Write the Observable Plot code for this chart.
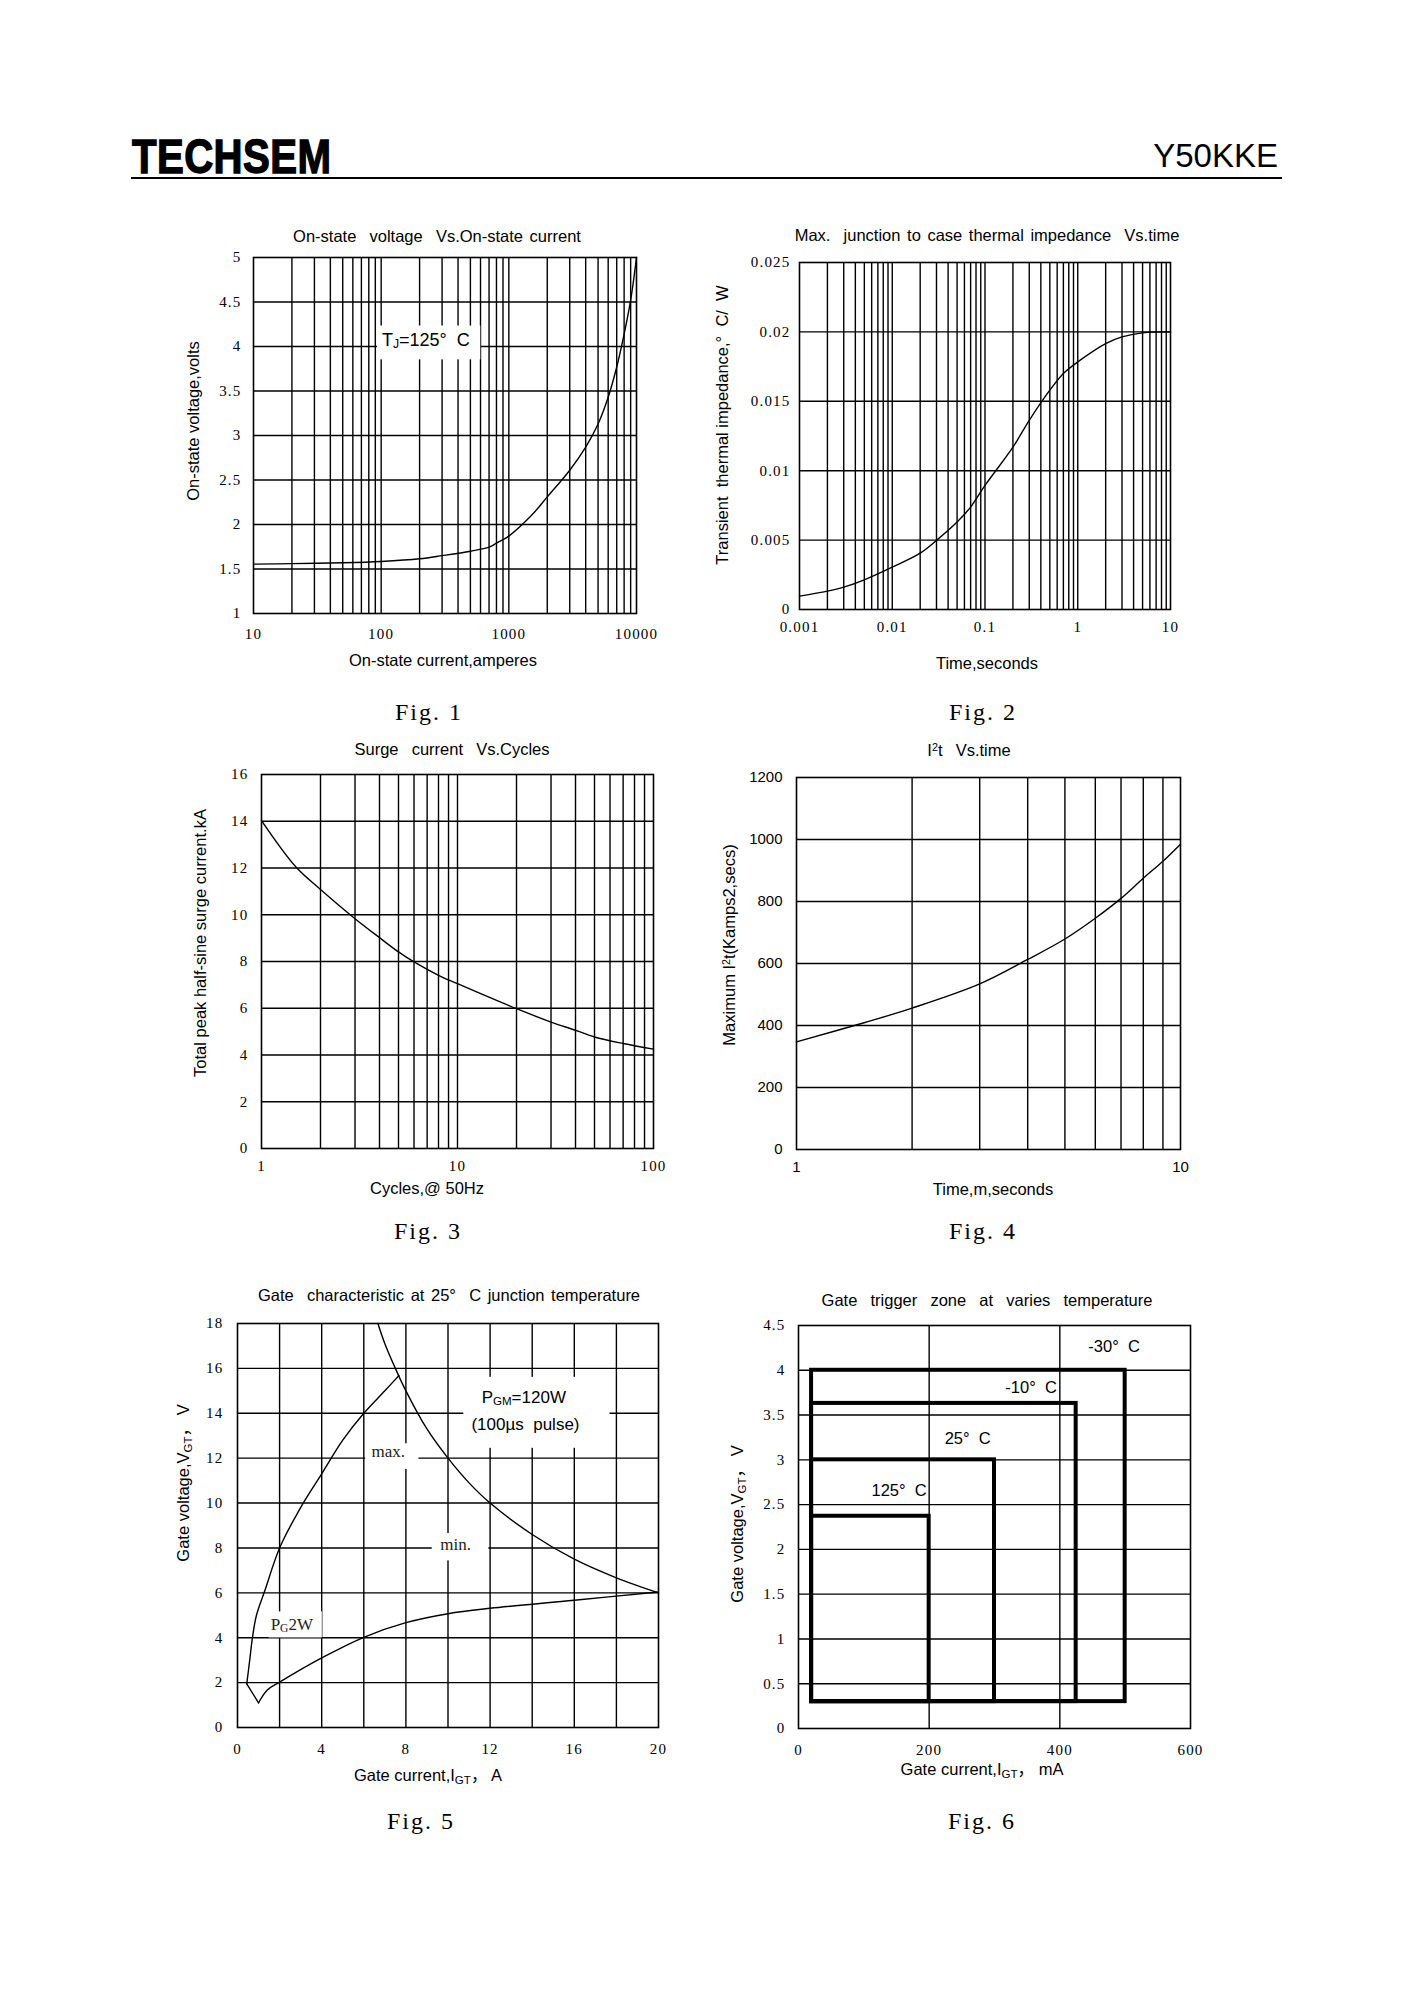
<!DOCTYPE html>
<html>
<head>
<meta charset="utf-8">
<script src="https://cdn.jsdelivr.net/npm/d3@7"></script>
<script src="https://cdn.jsdelivr.net/npm/@observablehq/plot@0.6"></script>
<style>
  body { margin: 0; background: #fff; }
  #page { position: relative; width: 1414px; height: 2000px; background: #fff; color: #000;
          font-family: "Liberation Sans", Arial, sans-serif; overflow: hidden; }
  .abs { position: absolute; white-space: nowrap; line-height: 1; }
  .c { transform: translate(-50%, -50%); }
  .r { transform: translate(-50%, -50%) rotate(-90deg); }
  .t { font-size: 16.5px; word-spacing: 2px; }
  .ax { font-size: 16.5px; }
  .fig { font-family: "Liberation Serif", "DejaVu Serif", serif; font-size: 24px; letter-spacing: 2px; }
  .cjk { font-family: "Noto Sans CJK SC", sans-serif; }
  sub { font-size: 70%; vertical-align: -0.25em; line-height: 0; }
  sup { font-size: 65%; vertical-align: 0.45em; line-height: 0; }
  svg g[aria-label$="tick label"] { letter-spacing: 1.2px; }
  svg.sans g[aria-label$="tick label"] { letter-spacing: 0; }
</style>
</head>
<body>
<div id="page"></div>
<script>
// ---------------- DATA ----------------
// Fig 1: On-state voltage vs on-state current (log x)
const fig1Current = [10, 20, 50, 100, 200, 300, 500, 700, 800, 1000, 1500, 2000, 3000, 4000, 5000, 6000, 7000, 8000, 9000, 10000];
const fig1Voltage = [1.555, 1.56, 1.57, 1.585, 1.615, 1.65, 1.70, 1.745, 1.79, 1.87, 2.10, 2.31, 2.61, 2.87, 3.13, 3.43, 3.77, 4.14, 4.52, 5.0];
const fig1XTicks = [10, 100, 1000, 10000];
const fig1XGrid = [20, 30, 40, 50, 60, 70, 80, 90, 100, 200, 300, 400, 500, 600, 700, 800, 900, 1000, 2000, 3000, 4000, 5000, 6000, 7000, 8000, 9000];
const fig1YTicks = [1, 1.5, 2, 2.5, 3, 3.5, 4, 4.5, 5];
const fig1YGrid = [1.5, 2, 2.5, 3, 3.5, 4, 4.5];
const fig1Notes = [{text: "T_{J}=125°  C", x: 224, y: 4.07, x1: 93.5, x2: 603, y1: 3.85, y2: 4.23}];

// Fig 2: Transient thermal impedance vs time (log x)
const fig2Time = [0.001, 0.002, 0.003, 0.005, 0.01, 0.02, 0.03, 0.05, 0.07, 0.1, 0.2, 0.3, 0.5, 0.7, 1, 2, 3, 5, 10];
const fig2Z = [0.00096, 0.00132, 0.00161, 0.00214, 0.00305, 0.00406, 0.00498, 0.0063, 0.00738, 0.00894, 0.0117, 0.01363, 0.0158, 0.0170, 0.01784, 0.01916, 0.01964, 0.01993, 0.0200];
const fig2XTicks = [0.001, 0.01, 0.1, 1, 10];
const fig2XGrid = [0.002, 0.003, 0.004, 0.005, 0.006, 0.007, 0.008, 0.009, 0.01, 0.02, 0.03, 0.04, 0.05, 0.06, 0.07, 0.08, 0.09, 0.1, 0.2, 0.3, 0.4, 0.5, 0.6, 0.7, 0.8, 0.9, 1, 2, 3, 4, 5, 6, 7, 8, 9];
const fig2YTicks = [0, 0.005, 0.01, 0.015, 0.02, 0.025];
const fig2YGrid = [0.005, 0.01, 0.015, 0.02];

// Fig 3: Surge current vs cycles (log x)
const fig3Cycles = [1, 1.5, 2, 3, 4, 5, 6, 8, 10, 20, 30, 40, 50, 70, 100];
const fig3Surge = [14.03, 12.04, 11.08, 9.83, 9.02, 8.41, 7.98, 7.41, 7.05, 5.98, 5.41, 5.06, 4.77, 4.49, 4.25];
const fig3XTicks = [1, 10, 100];
const fig3XGrid = [2, 3, 4, 5, 6, 7, 8, 9, 10, 20, 30, 40, 50, 60, 70, 80, 90];
const fig3YTicks = [0, 2, 4, 6, 8, 10, 12, 14, 16];
const fig3YGrid = [2, 4, 6, 8, 10, 12, 14];

// Fig 4: I2t vs time (log x)
const fig4Time = [1, 1.5, 2, 3, 4, 5, 6, 7, 8, 9, 10];
const fig4I2t = [347, 409, 456, 534, 613, 679, 746, 810, 875, 930, 985];
const fig4XTicks = [1, 10];
const fig4XGrid = [2, 3, 4, 5, 6, 7, 8, 9];
const fig4YTicks = [0, 200, 400, 600, 800, 1000, 1200];
const fig4YGrid = [200, 400, 600, 800, 1000];

// Fig 5: Gate characteristic at 25 °C
const fig5MaxI = [0.44, 0.58, 0.71, 0.9, 1.3, 2.0, 3.0, 4.0, 5.0, 6.0, 7.0, 7.67];
const fig5MaxV = [1.94, 3.0, 4.0, 5.0, 6.1, 8.0, 9.8, 11.3, 12.8, 14.0, 15.0, 15.68];
const fig5DipI = [0.44, 1.0];
const fig5DipV = [1.94, 1.1];
const fig5MinI = [1.0, 1.42, 2.0, 4.0, 6.0, 8.0, 10.0, 12.0, 16.0, 20.0];
const fig5MinV = [1.1, 1.67, 2.02, 3.1, 4.02, 4.67, 5.07, 5.31, 5.67, 6.04];
const fig5PgmI = [6.67, 7, 7.5, 8, 9, 10, 11, 12, 14, 16, 18, 20];
const fig5PgmV = [18, 17.1, 16, 15, 13.3, 12, 10.9, 10, 8.6, 7.5, 6.67, 6];
const fig5XTicks = [0, 4, 8, 12, 16, 20];
const fig5XGrid = [2, 4, 6, 8, 10, 12, 14, 16, 18];
const fig5YTicks = [0, 2, 4, 6, 8, 10, 12, 14, 16, 18];
const fig5YGrid = [2, 4, 6, 8, 10, 12, 14, 16];
const fig5SerifNotes = [
  {text: "max.", x: 7.16, y: 12.28, x1: 6.09, x2: 8.62, y1: 11.5, y2: 12.64},
  {text: "min.", x: 10.36, y: 8.15, x1: 9.25, x2: 11.94, y1: 7.42, y2: 8.64},
  {text: "P_{G}2W", x: 2.58, y: 4.59, x1: 1.5, x2: 4.03, y1: 3.99, y2: 5.15}
];
const fig5PgmBox = [{x1: 10.75, x2: 17.7, y1: 12.44, y2: 15.6}];
const fig5PgmNotes = [
  {text: "P_{GM}=120W", x: 13.6, y: 14.68},
  {text: "(100µs  pulse)", x: 13.68, y: 13.5}
];

// Fig 6: Gate trigger zone
const fig6Temps = ["-30°  C", "-10°  C", "25°  C", "125°  C"];
const fig6IMin = [20, 20, 20, 20];
const fig6IMax = [500, 425, 300, 200];
const fig6VMin = [0.3, 0.3, 0.3, 0.3];
const fig6VMax = [4.0, 3.63, 3.0, 2.37];
const fig6LabelI = [483, 356, 259, 154];
const fig6LabelV = [4.26, 3.81, 3.24, 2.65];
const fig6XTicks = [0, 200, 400, 600];
const fig6XGrid = [200, 400];
const fig6YTicks = [0, 0.5, 1, 1.5, 2, 2.5, 3, 3.5, 4, 4.5];
const fig6YGrid = [0.5, 1, 1.5, 2, 2.5, 3, 3.5, 4];

// ---------------- RENDER ----------------
const page = document.getElementById("page");
const SERIF = "'Liberation Serif', 'DejaVu Serif', serif";
const SANS = "'Liberation Sans', Arial, sans-serif";

function addText(html, x, y, cls, extra) {
  const d = document.createElement("div");
  d.className = "abs " + cls;
  d.innerHTML = html;
  d.style.left = x + "px";
  d.style.top = y + "px";
  if (extra) d.style.cssText += extra;
  page.appendChild(d);
  return d;
}

function subs(svg) {
  svg.querySelectorAll("text").forEach(t => {
    const s = t.textContent;
    if (!/_\{/.test(s)) return;
    while (t.firstChild) t.removeChild(t.firstChild);
    for (const p of s.split(/(_\{[^}]*\})/)) {
      if (!p) continue;
      const ts = document.createElementNS("http://www.w3.org/2000/svg", "tspan");
      if (p.startsWith("_{")) {
        ts.textContent = p.slice(2, -1);
        ts.setAttribute("baseline-shift", "-18%");
        ts.setAttribute("font-size", "68%");
      } else ts.textContent = p;
      t.appendChild(ts);
    }
  });
}

const ML = 72, MR = 48, MT = 16, MB = 40;
const GRID = {stroke: "black", strokeWidth: 1.4};
const CURVE = {stroke: "black", strokeWidth: 1.4, curve: "catmull-rom"};

function chart(f, o) {
  const svg = Plot.plot({
    width: f.w + ML + MR,
    height: f.h + MT + MB,
    marginLeft: ML, marginRight: MR, marginTop: MT, marginBottom: MB,
    style: {fontFamily: o.font, fontSize: (o.fontSize || 15) + "px", color: "black", background: "transparent", overflow: "visible", whiteSpace: "pre"},
    x: o.x,
    y: o.y,
    marks: [
      Plot.ruleX(o.xGrid, GRID),
      Plot.ruleY(o.yGrid, GRID),
      ...(o.under || []),
      Plot.frame({stroke: "black", strokeWidth: 1.6}),
      Plot.axisX(o.xTicks, {tickSize: 0, tickPadding: o.xPad, tickFormat: d => String(d), label: null}),
      Plot.axisY(o.yTicks, {tickSize: 0, tickPadding: o.yPad, tickFormat: d => String(d), label: null}),
      ...(o.marks || [])
    ]
  });
  subs(svg);
  if (o.font === SANS) svg.classList.add("sans");
  svg.style.position = "absolute";
  svg.style.left = (f.left - ML) + "px";
  svg.style.top = (f.top - MT) + "px";
  page.appendChild(svg);
}

// Header
addText("TECHSEM", 132, 155.5, "", "font-size:49px;font-weight:bold;transform:translateY(-50%) scaleX(0.82);transform-origin:left center;-webkit-text-stroke:1.4px #000;letter-spacing:0.5px;");
addText("Y50KKE", 1278, 155, "", "font-size:33px;transform:translate(-100%,-50%);");
addText("", 131, 176.5, "", "width:1151px;height:2px;background:#000;");

// Fig 1
chart({left: 253, top: 257, w: 383, h: 356}, {
  font: SERIF,
  x: {type: "log", domain: [10, 10000]},
  y: {domain: [1, 5]},
  xGrid: fig1XGrid, yGrid: fig1YGrid, xTicks: fig1XTicks, yTicks: fig1YTicks, xPad: 15, yPad: 12,
  under: [Plot.rect(fig1Notes, {x1: "x1", x2: "x2", y1: "y1", y2: "y2", fill: "white"})],
  marks: [
    Plot.line(fig1Voltage, {x: fig1Current, y: fig1Voltage, ...CURVE}),
    Plot.text(fig1Notes, {x: "x", y: "y", text: "text", fontFamily: SANS, fontSize: 18})
  ]
});
addText("On-state&nbsp; voltage&nbsp; Vs.On-state current", 437, 236, "c t");
addText("On-state current,amperes", 443, 660, "c ax");
addText("On-state voltage,volts", 193, 421, "r ax");
addText("Fig. 1", 429, 712, "c fig");

// Fig 2
chart({left: 799, top: 262, w: 371, h: 347}, {
  font: SERIF,
  x: {type: "log", domain: [0.001, 10]},
  y: {domain: [0, 0.025]},
  xGrid: fig2XGrid, yGrid: fig2YGrid, xTicks: fig2XTicks, yTicks: fig2YTicks, xPad: 12, yPad: 9,
  marks: [Plot.line(fig2Z, {x: fig2Time, y: fig2Z, ...CURVE})]
});
addText("Max.&nbsp; junction to case thermal impedance&nbsp; Vs.time", 987, 235, "c t");
addText("Time,seconds", 987, 663, "c ax");
addText("Transient&nbsp; thermal impedance,° &nbsp;C/&nbsp; W", 722, 425, "r ax");
addText("Fig. 2", 983, 712, "c fig");

// Fig 3
chart({left: 261, top: 774, w: 392, h: 374}, {
  font: SERIF,
  x: {type: "log", domain: [1, 100]},
  y: {domain: [0, 16]},
  xGrid: fig3XGrid, yGrid: fig3YGrid, xTicks: fig3XTicks, yTicks: fig3YTicks, xPad: 12, yPad: 13,
  marks: [Plot.line(fig3Surge, {x: fig3Cycles, y: fig3Surge, ...CURVE})]
});
addText("Surge&nbsp; current&nbsp; Vs.Cycles", 452, 749, "c t");
addText("Cycles,@ 50Hz", 427, 1188, "c ax");
addText("Total peak half-sine surge current.kA", 200, 943, "r ax");
addText("Fig. 3", 428, 1231, "c fig");

// Fig 4
chart({left: 796, top: 777, w: 384, h: 372}, {
  font: SANS, fontSize: 15,
  x: {type: "log", domain: [1, 10]},
  y: {domain: [0, 1200]},
  xGrid: fig4XGrid, yGrid: fig4YGrid, xTicks: fig4XTicks, yTicks: fig4YTicks, xPad: 12, yPad: 14,
  marks: [Plot.line(fig4I2t, {x: fig4Time, y: fig4I2t, ...CURVE})]
});
addText("I<sup>2</sup>t&nbsp; Vs.time", 969, 750, "c t");
addText("Time,m,seconds", 993, 1189, "c ax");
addText("Maximum I<sup>2</sup>t(Kamps2,secs)", 729, 945, "r ax");
addText("Fig. 4", 983, 1231, "c fig");

// Fig 5
chart({left: 237, top: 1323, w: 421, h: 404}, {
  font: SERIF,
  x: {domain: [0, 20]},
  y: {domain: [0, 18]},
  xGrid: fig5XGrid, yGrid: fig5YGrid, xTicks: fig5XTicks, yTicks: fig5YTicks, xPad: 16, yPad: 14,
  under: [
    Plot.rect(fig5SerifNotes, {x1: "x1", x2: "x2", y1: "y1", y2: "y2", fill: "white"}),
    Plot.rect(fig5PgmBox, {x1: "x1", x2: "x2", y1: "y1", y2: "y2", fill: "white"})
  ],
  marks: [
    Plot.line(fig5MaxV, {x: fig5MaxI, y: fig5MaxV, ...CURVE}),
    Plot.line(fig5DipV, {x: fig5DipI, y: fig5DipV, stroke: "black", strokeWidth: 1.4}),
    Plot.line(fig5MinV, {x: fig5MinI, y: fig5MinV, ...CURVE}),
    Plot.line(fig5PgmV, {x: fig5PgmI, y: fig5PgmV, ...CURVE}),
    Plot.text(fig5SerifNotes, {x: "x", y: "y", text: "text", fontFamily: SERIF, fontSize: 17, fill: "#222"}),
    Plot.text(fig5PgmNotes, {x: "x", y: "y", text: "text", fontFamily: SANS, fontSize: 17})
  ]
});
addText("Gate&nbsp; characteristic at 25°&nbsp; C junction temperature", 449, 1295, "c t");
addText("Gate current,I<sub>GT</sub><span class='cjk'>，</span> A", 428, 1775, "c ax");
addText("Gate voltage,V<sub>GT</sub><span class='cjk'>，</span> V", 183, 1483, "r ax");
addText("Fig. 5", 421, 1821, "c fig");

// Fig 6
chart({left: 798, top: 1325, w: 392, h: 403}, {
  font: SERIF,
  x: {domain: [0, 600]},
  y: {domain: [0, 4.5]},
  xGrid: fig6XGrid, yGrid: fig6YGrid, xTicks: fig6XTicks, yTicks: fig6YTicks, xPad: 16, yPad: 13,
  marks: [
    Plot.rect(fig6Temps, {x1: fig6IMin, x2: fig6IMax, y1: fig6VMin, y2: fig6VMax, fill: "none", stroke: "black", strokeWidth: 4}),
    Plot.text(fig6Temps, {x: fig6LabelI, y: fig6LabelV, text: d => d, fontFamily: SANS, fontSize: 16.5})
  ]
});
addText("Gate&nbsp; trigger&nbsp; zone&nbsp; at&nbsp; varies&nbsp; temperature", 987, 1300, "c t");
addText("Gate current,I<sub>GT</sub><span class='cjk'>，</span> mA", 982, 1769, "c ax");
addText("Gate voltage,V<sub>GT</sub><span class='cjk'>，</span> V", 737, 1524, "r ax");
addText("Fig. 6", 982, 1821, "c fig");
</script>
</body>
</html>
